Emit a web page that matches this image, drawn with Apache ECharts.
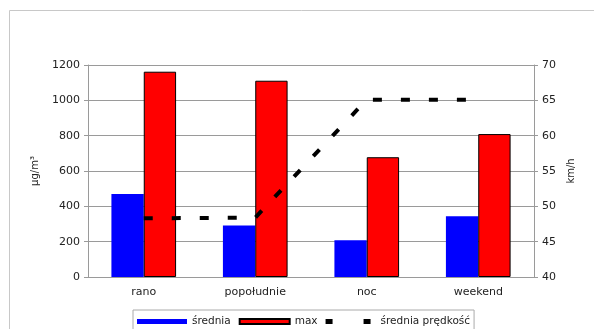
<!DOCTYPE html>
<html><head><meta charset="utf-8">
<script src="https://cdn.jsdelivr.net/npm/echarts@6/dist/echarts.min.js"></script>
<style>html,body{margin:0;padding:0;background:#fff;overflow:hidden}#c{width:594px;height:329px}</style>
</head><body><div id="c"></div>
<script>
const categories = ['rano', 'popołudnie', 'noc', 'weekend'];
const srednia = [470, 292, 208, 344];
const maxVals = [1162, 1111, 678, 809];
const predkosc = [48.3, 48.4, 65.1, 65.1];

const font = 'DejaVu Sans';
const txt = '#222';
const grey = '#9a9a9a';
const chart = echarts.init(document.getElementById('c'), null, {renderer: 'canvas'});
chart.setOption({
  backgroundColor: '#fff',
  animation: false,
  textStyle: {fontFamily: font},
  graphic: [
    {type: 'line', shape: {x1: 9.5, y1: 10.5, x2: 594, y2: 10.5}, style: {stroke: '#c8c8c8', lineWidth: 1}, z: -1},
    {type: 'line', shape: {x1: 9.5, y1: 10.5, x2: 9.5, y2: 329}, style: {stroke: '#c8c8c8', lineWidth: 1}, z: -1}
  ],
  grid: {left: 88, right: 60, top: 65, bottom: 52},
  legend: {
    left: 133, top: 310,
    itemWidth: 50, itemHeight: 5, itemGap: 8,
    borderColor: '#aaa', borderWidth: 1, padding: [6, 4, 6, 4],
    textStyle: {fontFamily: font, fontSize: 10.5, color: txt},
    data: [
      {name: 'średnia', icon: 'rect'},
      {name: 'max', icon: 'rect'},
      {name: 'średnia prędkość', icon: 'path://M0,0h7v5h-7z M38,0h7v5h-7z M50,0h0.01v0.01h-0.01z'}
    ]
  },
  xAxis: {
    type: 'category', data: categories,
    axisLine: {lineStyle: {color: grey}},
    axisTick: {lineStyle: {color: grey}, length: 4},
    axisLabel: {color: txt, fontSize: 11, fontFamily: font, margin: 10}
  },
  yAxis: [{
    type: 'value', min: 0, max: 1200, interval: 200,
    name: 'µg/m³', nameLocation: 'middle', nameGap: 48, nameRotate: 90,
    nameTextStyle: {color: txt, fontSize: 10, fontFamily: font},
    axisLine: {show: true, lineStyle: {color: grey}},
    axisTick: {show: true, length: 4, lineStyle: {color: grey}},
    axisLabel: {color: txt, fontSize: 11, fontFamily: font, margin: 8, formatter: v => String(v)},
    splitLine: {lineStyle: {color: grey}}
  }, {
    type: 'value', min: 40, max: 70, interval: 5,
    name: 'km/h', nameLocation: 'middle', nameGap: 32, nameRotate: 90,
    nameTextStyle: {color: txt, fontSize: 10, fontFamily: font},
    axisLine: {show: true, lineStyle: {color: grey}},
    axisTick: {show: true, length: 4, lineStyle: {color: grey}},
    axisLabel: {color: txt, fontSize: 11, fontFamily: font, margin: 8, formatter: v => String(v)},
    splitLine: {show: false}
  }],
  series: [{
    name: 'średnia', type: 'bar', data: srednia,
    barGap: '0%', barCategoryGap: '42%',
    itemStyle: {color: '#0000ff', borderColor: '#0000ff', borderWidth: 0}
  }, {
    name: 'max', type: 'bar', data: maxVals,
    itemStyle: {color: '#ff0000', borderColor: '#000', borderWidth: 1}
  }, {
    name: 'średnia prędkość', type: 'line', yAxisIndex: 1, data: predkosc,
    symbol: 'none',
    itemStyle: {color: '#000'},
    lineStyle: {color: '#000', width: 4, type: [9, 19]}
  }]
});
</script></body></html>
